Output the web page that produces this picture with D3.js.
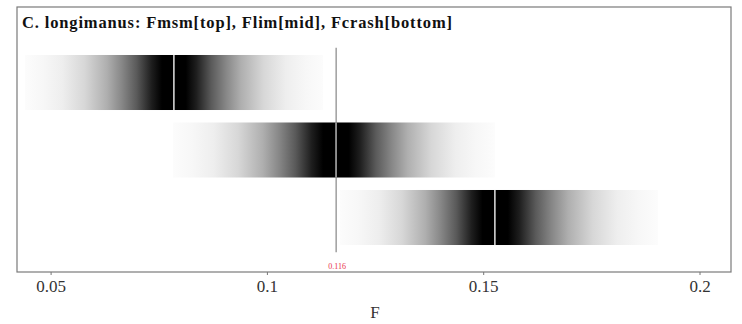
<html>
<head>
<style>
  body { margin: 0; background: #fff; }
  svg text { font-family: "Liberation Serif", "DejaVu Serif", serif; }
</style>
</head>
<body>
<script src="https://cdn.jsdelivr.net/npm/d3@7"></script>
<svg id="chart" width="742" height="324"></svg>
<script>
// values
var bands   = ["Fmsm", "Flim", "Fcrash"];      // top, mid, bottom
var lower   = [0.0441, 0.0783, 0.1169];
var median  = [0.0785, 0.116, 0.1527];
var upper   = [0.1130, 0.1527, 0.1904];
var refValue = 0.116;
var xTicks  = [0.05, 0.1, 0.15, 0.2];

// grey level of the shading vs. distance from median (fraction of half width)
var shadeDist = [0, 0.08, 0.15, 0.25, 0.35, 0.45, 0.6, 0.75, 0.88, 1];
var shadeGray = [0, 0, 30, 90, 135, 175, 215, 238, 247, 252];

var svg = d3.select("#chart");
var frame = {left: 17, top: 7, right: 731, bottom: 272};

var x = d3.scaleLinear().domain([0.05, 0.2]).range([50.6, 699.5]);
var y = d3.scaleBand().domain(bands).range([48.75, 251.25])
  .paddingInner(0.185).paddingOuter(0.0925);

var defs = svg.append("defs");

bands.forEach(function(b, i) {
  var grad = defs.append("linearGradient")
    .attr("id", "g" + i)
    .attr("x1", "0%").attr("x2", "100%").attr("y1", "0%").attr("y2", "0%");
  var span = upper[i] - lower[i];
  var stops = [];
  for (var k = shadeDist.length - 1; k >= 0; k--) {
    var v = median[i] - shadeDist[k] * (median[i] - lower[i]);
    stops.push({o: (v - lower[i]) / span, g: shadeGray[k]});
  }
  for (var k = 1; k < shadeDist.length; k++) {
    var v = median[i] + shadeDist[k] * (upper[i] - median[i]);
    stops.push({o: (v - lower[i]) / span, g: shadeGray[k]});
  }
  grad.selectAll("stop").data(stops).enter().append("stop")
    .attr("offset", function(d) { return (d.o * 100) + "%"; })
    .attr("stop-color", function(d) { return d3.rgb(d.g, d.g, d.g); });
});

// bands
svg.append("g").selectAll("rect")
  .data(bands)
  .enter().append("rect")
  .attr("x", function(d, i) { return x(lower[i]); })
  .attr("width", function(d, i) { return x(upper[i]) - x(lower[i]); })
  .attr("y", function(d) { return y(d); })
  .attr("height", y.bandwidth())
  .attr("fill", function(d, i) { return "url(#g" + i + ")"; });

// median lines
svg.append("g").selectAll("line")
  .data(bands)
  .enter().append("line")
  .attr("x1", function(d, i) { return x(median[i]); })
  .attr("x2", function(d, i) { return x(median[i]); })
  .attr("y1", function(d) { return y(d); })
  .attr("y2", function(d) { return y(d) + y.bandwidth(); })
  .attr("stroke", "#e2e2e2")
  .attr("stroke-width", 1.5);

// reference line
svg.append("line")
  .attr("x1", x(refValue)).attr("x2", x(refValue))
  .attr("y1", y.range()[0] - 1).attr("y2", y.range()[1] + 1)
  .attr("stroke", "#6e6e6e")
  .attr("stroke-width", 1);

svg.append("text")
  .attr("x", x(refValue) + 1)
  .attr("y", 269)
  .attr("text-anchor", "middle")
  .style("font-size", "8px")
  .style("fill", "#e8334a")
  .text(refValue);

// frame
svg.append("rect")
  .attr("x", frame.left).attr("y", frame.top)
  .attr("width", frame.right - frame.left)
  .attr("height", frame.bottom - frame.top)
  .attr("fill", "none")
  .attr("stroke", "#7a7a7a")
  .attr("stroke-width", 1.2);

// x axis
var axis = svg.append("g")
  .attr("transform", "translate(0," + frame.bottom + ")")
  .call(d3.axisBottom(x).tickValues(xTicks).tickSize(3).tickPadding(5)
    .tickFormat(function(d) { return String(d); }));
axis.select(".domain").remove();
axis.selectAll(".tick line").attr("stroke", "#777");
axis.selectAll(".tick text")
  .style("font-size", "17px")
  .style("fill", "#333")
  .style("font-family", "Liberation Serif, serif");

svg.append("text")
  .attr("x", 375).attr("y", 318)
  .attr("text-anchor", "middle")
  .style("font-size", "17px")
  .style("fill", "#333")
  .text("F");

// title
svg.append("text")
  .attr("x", 22).attr("y", 28)
  .attr("textLength", 430)
  .style("font-size", "16.5px")
  .style("font-weight", "bold")
  .style("fill", "#111")
  .text("C. longimanus:  Fmsm[top], Flim[mid], Fcrash[bottom]");
</script>
</body>
</html>
